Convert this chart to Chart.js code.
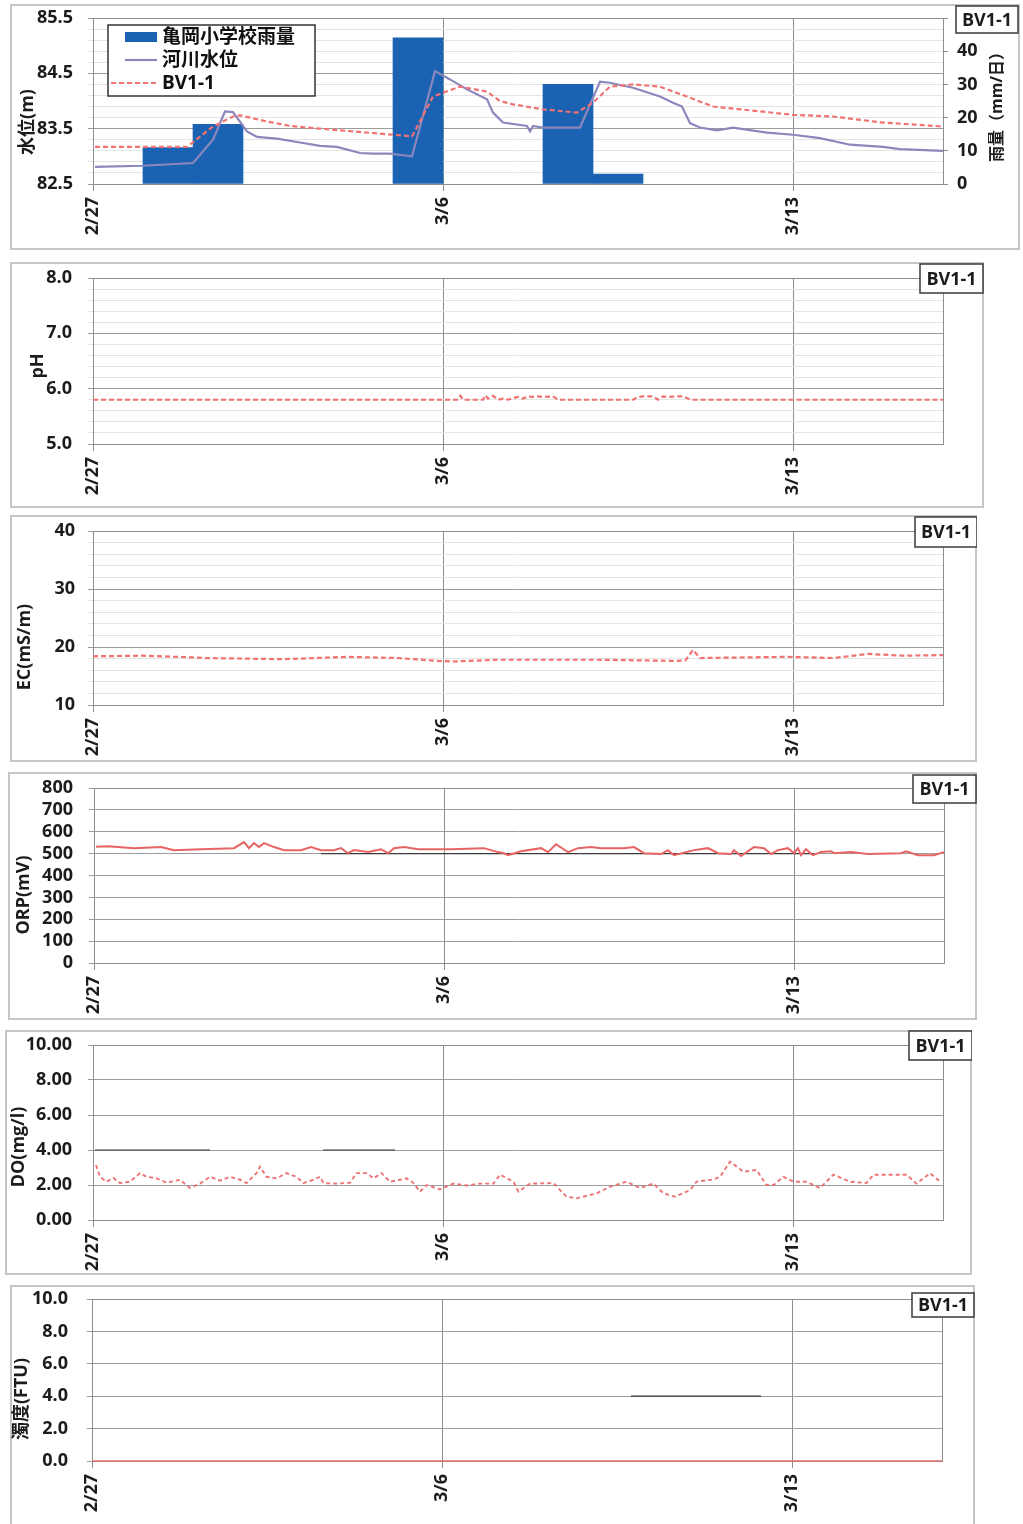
<!DOCTYPE html>
<html><head><meta charset="utf-8">
<script src="https://cdn.jsdelivr.net/npm/chart.js@4.4.0/dist/chart.umd.min.js"></script>
<style>
html,body{margin:0;padding:0;background:#fff;overflow:hidden;width:1023px;height:1524px;}
canvas{position:absolute;}
</style></head><body>
<canvas id="c1"></canvas><canvas id="c2"></canvas><canvas id="c3"></canvas>
<canvas id="c4"></canvas><canvas id="c5"></canvas><canvas id="c6"></canvas>
<script>
// ---------- shared x axis (days since 2/27) ----------
const dayTicks = [0, 7, 14];
const dateLabels = ['2/27', '3/6', '3/13'];
const dayMin = 0, dayMax = 17;

// ---------- panel 1 : rain + water level ----------
const rainDayIndex = [1, 2, 6, 9, 10];
const rainValues = [11, 18, 44, 30, 3];
const riverDays = [0.04,1.0,2.0,2.4,2.64,2.8,3.08,3.28,3.68,4.14,4.54,4.88,5.34,5.6,5.94,6.38,6.84,7.14,7.48,7.88,8.0,8.2,8.68,8.74,8.8,9.0,9.74,10.14,10.34,10.8,11.34,11.6,11.78,11.94,12.14,12.48,12.8,13.48,14.0,14.54,15.14,15.8,16.14,17.0];
const riverLevel = [82.81,82.83,82.88,83.3,83.81,83.8,83.45,83.35,83.32,83.25,83.19,83.17,83.06,83.05,83.05,83.0,84.54,84.39,84.21,84.03,83.79,83.61,83.55,83.45,83.55,83.52,83.52,84.35,84.33,84.24,84.08,83.97,83.9,83.6,83.52,83.47,83.52,83.43,83.39,83.33,83.21,83.17,83.13,83.1];
const bvDays = [0.04,1.88,2.4,2.8,2.94,3.48,3.94,4.54,5.2,6.0,6.38,6.8,7.34,7.88,8.14,8.4,9.0,9.68,10.0,10.34,10.8,11.34,11.88,12.4,12.94,14.0,14.8,15.8,17.0];
const bvLevel = [83.17,83.17,83.54,83.72,83.74,83.63,83.55,83.5,83.45,83.39,83.36,84.08,84.26,84.17,84.0,83.94,83.85,83.79,83.97,84.26,84.3,84.26,84.08,83.9,83.85,83.75,83.72,83.61,83.54];
const levelTicks = [82.5, 83.5, 84.5, 85.5];
const rainTicks = [0, 10, 20, 30, 40, 50];

// ---------- panel 2 : pH ----------
const phDays = [0,7.3,7.35,7.4,7.8,7.85,7.9,8.0,8.1,8.2,8.3,8.4,8.5,8.6,8.7,8.8,8.9,9.0,9.2,9.3,10.8,10.9,11.0,11.2,11.3,11.4,11.5,11.7,11.8,11.95,17];
const phValues = [5.8,5.8,5.87,5.8,5.8,5.88,5.82,5.87,5.8,5.82,5.8,5.83,5.85,5.82,5.86,5.85,5.86,5.85,5.86,5.8,5.8,5.85,5.86,5.86,5.8,5.86,5.85,5.86,5.86,5.8,5.8];
const phTicks = [5, 6, 7, 8];

// ---------- panel 3 : EC ----------
const ecDays = [0,1,2,2.2,3.8,5.1,6.1,6.9,7.2,8.1,10.1,11.7,11.85,12.0,12.14,13.9,14.8,15.5,16.2,17];
const ecValues = [18.4,18.5,18.2,18.1,17.9,18.3,18.1,17.6,17.5,17.8,17.8,17.6,17.7,19.5,18.1,18.3,18.1,18.8,18.5,18.6];
const ecTicks = [10, 20, 30, 40];

// ---------- panel 4 : ORP ----------
const orpDays = [0.04,0.28,0.8,1.34,1.6,2.14,2.8,3.0,3.1,3.2,3.3,3.4,3.6,3.8,4.14,4.34,4.54,4.8,4.94,5.08,5.2,5.48,5.74,5.88,6.0,6.2,6.48,7.14,7.8,8.08,8.2,8.28,8.54,8.94,9.08,9.24,9.48,9.68,9.94,10.14,10.6,10.8,11.0,11.34,11.48,11.6,12.0,12.28,12.48,12.74,12.8,12.94,13.2,13.4,13.54,13.68,13.88,14.0,14.08,14.14,14.24,14.38,14.54,14.74,14.8,15.14,15.48,16.14,16.24,16.48,16.8,17.0];
const orpValues = [531,534,525,530,516,520,525,553,525,548,530,548,530,516,516,530,516,516,525,502,516,507,520,502,525,530,520,520,525,507,502,493,511,525,507,543,507,525,530,525,525,530,502,498,516,493,516,525,502,498,516,489,530,525,498,516,525,502,525,493,520,493,507,511,502,507,498,502,511,493,493,507];
const orpRefDays = [4.54, 14.4];
const orpRefValues = [500, 500];
const orpTicks = [0, 100, 200, 300, 400, 500, 600, 700, 800];

// ---------- panel 5 : DO ----------
const doDays = [0.06,0.14,0.27,0.41,0.54,0.74,0.94,1.07,1.27,1.47,1.74,1.94,2.14,2.34,2.54,2.74,2.94,3.07,3.27,3.34,3.47,3.67,3.87,4.07,4.21,4.41,4.54,4.61,4.87,5.14,5.27,5.47,5.61,5.77,5.94,6.14,6.27,6.41,6.54,6.67,6.94,7.21,7.47,7.74,8.01,8.14,8.41,8.51,8.74,9.21,9.47,9.67,10.07,10.34,10.67,10.94,11.21,11.41,11.64,11.94,12.07,12.41,12.54,12.74,13.01,13.27,13.47,13.61,13.81,14.01,14.27,14.54,14.81,15.14,15.47,15.61,16.27,16.47,16.74,16.97];
const doValues = [3.14,2.47,2.19,2.4,2.11,2.19,2.68,2.47,2.38,2.13,2.3,1.83,2.08,2.47,2.25,2.47,2.3,2.11,2.68,3.05,2.47,2.38,2.68,2.47,2.11,2.3,2.47,2.11,2.08,2.13,2.68,2.68,2.38,2.68,2.19,2.3,2.38,2.11,1.62,2.0,1.75,2.08,1.97,2.08,2.08,2.59,2.19,1.62,2.08,2.11,1.33,1.24,1.52,1.9,2.19,1.83,2.08,1.52,1.33,1.71,2.19,2.32,2.47,3.33,2.76,2.86,2.0,2.0,2.47,2.19,2.19,1.83,2.59,2.19,2.11,2.59,2.59,2.08,2.67,2.13];
const doRefDays = [0.04, 2.34, 2.35, 4.6, 6.04];
const doRefValues = [4, 4, null, 4, 4];
const doTicks = [0, 2, 4, 6, 8, 10];

// ---------- panel 6 : turbidity ----------
const turbDays = [0, 17];
const turbValues = [0, 0];
const turbRefDays = [10.78, 13.38];
const turbRefValues = [4, 4];
const turbTicks = [0, 2, 4, 6, 8, 10];

// ---------- helpers ----------
const FONT = "'Open Sans','Noto Sans CJK JP',sans-serif";
Chart.defaults.font.family = FONT;
Chart.defaults.font.weight = 'bold';
Chart.defaults.font.size = 18;
Chart.defaults.color = '#1c1c1c';

function pts(xs, ys) { return xs.map((x, i) => ({x: x, y: ys[i]})); }
function gridValues(major, minorStep) {
  if (!minorStep) return major.slice();
  const lo = major[0], hi = major[major.length - 1], out = [];
  const n = Math.round((hi - lo) / minorStep);
  for (let k = 0; k <= n; k++) out.push(+(lo + k * minorStep).toFixed(4));
  return out;
}
function lineDS(label, xs, ys, color, width, dash, order) {
  return {type: 'line', label: label, data: pts(xs, ys), borderColor: color, backgroundColor: color,
    borderWidth: width, borderDash: dash || [], pointRadius: 0, tension: 0, spanGaps: false,
    order: order, clip: false, yAxisID: 'y'};
}
function noPad(s) { s.paddingTop = 0; s.paddingBottom = 0; s.paddingLeft = 0; s.paddingRight = 0; }

const deco = {
  id: 'panelDeco',
  beforeDraw(chart) {
    const c = chart.ctx; c.save();
    c.fillStyle = '#fff'; c.fillRect(0, 0, chart.width, chart.height);
    c.strokeStyle = '#c6c6c6'; c.lineWidth = 2;
    c.strokeRect(1, 1, chart.width - 2, chart.height - 2);
    c.restore();
  },
  beforeDatasetsDraw(chart) {
    const a = chart.chartArea, c = chart.ctx; c.save();
    c.strokeStyle = '#8e8e8e'; c.lineWidth = 1;
    c.strokeRect(Math.round(a.left) + 0.5, Math.round(a.top) + 0.5, Math.round(a.right - a.left), Math.round(a.bottom - a.top));
    c.restore();
  },
  afterDatasetsDraw(chart, args, o) {
    if (!o.legend) return;
    const c = chart.ctx, L = o.legend, a = chart.chartArea;
    const x0 = a.left + L.dx, y0 = a.top + L.dy;
    c.save();
    c.fillStyle = '#fff'; c.fillRect(x0, y0, L.w, L.h);
    c.strokeStyle = '#333'; c.lineWidth = 1.5; c.strokeRect(x0, y0, L.w, L.h);
    c.font = 'bold 19px ' + FONT; c.textBaseline = 'middle'; c.fillStyle = '#111';
    const items = chart.data.datasets.filter(d => d.label);
    items.forEach((d, i) => {
      const cy = y0 + 12 + i * 23;
      if (d.type === 'bar') {
        c.fillStyle = d.backgroundColor; c.fillRect(x0 + 17, cy - 5, 32, 10);
      } else {
        c.strokeStyle = d.borderColor; c.lineWidth = d.borderWidth;
        c.setLineDash(d.borderDash || []);
        c.beginPath(); c.moveTo(x0 + (d.borderDash && d.borderDash.length ? 3 : 17), cy); c.lineTo(x0 + 49, cy); c.stroke();
        c.setLineDash([]);
      }
      c.fillStyle = '#111'; c.fillText(d.label, x0 + 54, cy + 1);
    });
    c.restore();
  },
  afterDraw(chart, args, o) {
    const c = chart.ctx; c.save();
    c.fillStyle = '#1c1c1c'; c.textAlign = 'center'; c.textBaseline = 'middle';
    if (o.yTitle) {
      c.save(); c.translate(o.yTitle.x, o.yTitle.y); c.rotate(-Math.PI / 2);
      c.font = 'bold 18px ' + FONT; c.fillText(o.yTitle.text, 0, 0); c.restore();
    }
    if (o.rTitle) {
      c.save(); c.translate(o.rTitle.x, o.rTitle.y); c.rotate(-Math.PI / 2);
      c.font = 'bold 16px ' + FONT; c.fillText(o.rTitle.text, 0, 0); c.restore();
    }
    if (o.tag) {
      const t = o.tag;
      c.fillStyle = '#fff'; c.fillRect(t.x, t.y, t.w, t.h);
      c.strokeStyle = '#3a3a3a'; c.lineWidth = 1.5; c.strokeRect(t.x, t.y, t.w, t.h);
      c.fillStyle = '#1c1c1c'; c.font = 'bold 18px ' + FONT;
      c.fillText(t.text, t.x + t.w / 2, t.y + t.h / 2 + 1);
    }
    c.restore();
  }
};

function buildPanel(p) {
  const cv = document.getElementById(p.id);
  cv.width = p.box.w; cv.height = p.box.h;
  cv.style.left = p.box.x + 'px'; cv.style.top = p.box.y + 'px';
  const leftW = p.plot.l - p.box.x, topPad = p.plot.t - p.box.y;
  const bottomH = p.box.y + p.box.h - p.plot.b, rightW = p.box.x + p.box.w - p.plot.r;
  const major = p.ticks, grid = gridValues(major, p.minor);
  const isMajor = v => major.some(m => Math.abs(m - v) < 1e-6);
  const scales = {
    x: {type: 'linear', min: dayMin, max: dayMax, offset: false,
      afterBuildTicks: s => { s.ticks = dayTicks.map(v => ({value: v})); },
      afterFit: s => { s.height = bottomH; noPad(s); },
      ticks: {autoSkip: false, minRotation: 90, maxRotation: 90, padding: 6,
        callback: (v, i) => dateLabels[i], font: {size: 18, weight: 'bold'}},
      grid: {offset: false, color: '#8e8e8e', lineWidth: 1, tickLength: 7},
      border: {color: '#8e8e8e'}},
    y: {type: 'linear', position: 'left', min: major[0], max: major[major.length - 1],
      afterBuildTicks: s => { s.ticks = grid.map(v => ({value: v})); },
      afterFit: s => { s.width = leftW; noPad(s); },
      ticks: {autoSkip: false, padding: p.tickPad,
        callback: v => isMajor(v) ? v.toFixed(p.dec) : ''},
      grid: {color: c => (c.tick && isMajor(c.tick.value)) ? '#9c9c9c' : '#e4e4e4', tickLength: 5},
      border: {color: '#8e8e8e'}}
  };
  const pad = {left: 0, top: topPad, bottom: 0, right: rightW};
  if (p.right) {
    scales.yR = {type: 'linear', position: 'right', min: p.right[0], max: p.right[p.right.length - 1],
      afterBuildTicks: s => { s.ticks = p.right.map(v => ({value: v})); },
      afterFit: s => { s.width = rightW; noPad(s); },
      ticks: {autoSkip: false, padding: 9, callback: v => String(v)},
      grid: {drawOnChartArea: false, color: '#8e8e8e', tickLength: 5},
      border: {color: '#8e8e8e'}};
    pad.right = 0;
  }
  new Chart(cv, {
    type: 'line',
    data: {datasets: p.datasets},
    options: {responsive: false, animation: false, devicePixelRatio: 1,
      layout: {padding: pad}, scales: scales,
      plugins: {legend: {display: false}, tooltip: {enabled: false}, panelDeco: p.deco}},
    plugins: [deco]
  });
}

// ---------- panels ----------
buildPanel({id: 'c1', box: {x: 10, y: 4, w: 1010, h: 246}, plot: {l: 93, t: 18, r: 943, b: 184},
  ticks: levelTicks, minor: 0.2, dec: 1, tickPad: 15, right: rainTicks,
  datasets: [
    {type: 'bar', label: '亀岡小学校雨量', data: pts(rainDayIndex.map(d => d + 0.5), rainValues),
      backgroundColor: '#1b62b3', borderWidth: 0, barPercentage: 1, categoryPercentage: 1, yAxisID: 'yR', order: 10},
    lineDS('河川水位', riverDays, riverLevel, '#8b87bd', 2.2, [], 2),
    lineDS('BV1-1', bvDays, bvLevel, '#f07272', 2.2, [5, 3], 1)
  ],
  deco: {legend: {dx: 15, dy: 7, w: 207, h: 71},
    yTitle: {text: '水位(m)', x: 18, y: 118},
    rTitle: {text: '雨量（mm/日）', x: 987, y: 99},
    tag: {text: 'BV1-1', x: 946, y: 2, w: 62, h: 27}}});

buildPanel({id: 'c2', box: {x: 10, y: 262, w: 974, h: 246}, plot: {l: 93, t: 278, r: 943, b: 444},
  ticks: phTicks, minor: 0.2, dec: 1, tickPad: 16,
  datasets: [lineDS('', phDays, phValues, '#f07272', 2.2, [5, 3], 1)],
  deco: {yTitle: {text: 'pH', x: 28, y: 104}, tag: {text: 'BV1-1', x: 910, y: 2, w: 63, h: 29}}});

buildPanel({id: 'c3', box: {x: 10, y: 515, w: 967, h: 247}, plot: {l: 93, t: 531, r: 943, b: 705},
  ticks: ecTicks, minor: 2, dec: 0, tickPad: 13,
  datasets: [lineDS('', ecDays, ecValues, '#f07272', 2.2, [5, 3], 1)],
  deco: {yTitle: {text: 'EC(mS/m)', x: 15, y: 132}, tag: {text: 'BV1-1', x: 905, y: 2, w: 62, h: 30}}});

buildPanel({id: 'c4', box: {x: 8, y: 772, w: 969, h: 248}, plot: {l: 94, t: 788, r: 944, b: 963},
  ticks: orpTicks, minor: 0, dec: 0, tickPad: 16,
  datasets: [
    lineDS('', orpRefDays, orpRefValues, '#3a3a3a', 1.3, [], 5),
    lineDS('', orpDays, orpValues, '#e86464', 2, [], 1)
  ],
  deco: {yTitle: {text: 'ORP(mV)', x: 16, y: 123}, tag: {text: 'BV1-1', x: 905, y: 3, w: 63, h: 28}}});

buildPanel({id: 'c5', box: {x: 5, y: 1030, w: 967, h: 245}, plot: {l: 93, t: 1045, r: 943, b: 1220},
  ticks: doTicks, minor: 0, dec: 2, tickPad: 16,
  datasets: [
    lineDS('', doRefDays, doRefValues, '#3a3a3a', 1.2, [], 5),
    lineDS('', doDays, doValues, '#ec7474', 1.9, [4, 3], 1)
  ],
  deco: {yTitle: {text: 'DO(mg/l)', x: 14, y: 117}, tag: {text: 'BV1-1', x: 904, y: 1, w: 63, h: 29}}});

buildPanel({id: 'c6', box: {x: 10, y: 1285, w: 965, h: 250}, plot: {l: 92, t: 1299, r: 942, b: 1461},
  ticks: turbTicks, minor: 0, dec: 1, tickPad: 19,
  datasets: [
    lineDS('', turbRefDays, turbRefValues, '#3a3a3a', 1.3, [], 5),
    lineDS('', turbDays, turbValues, '#e07070', 1.6, [], 1)
  ],
  deco: {yTitle: {text: '濁度(FTU)', x: 12, y: 114}, tag: {text: 'BV1-1', x: 902, y: 8, w: 62, h: 24}}});
</script>
</body></html>
